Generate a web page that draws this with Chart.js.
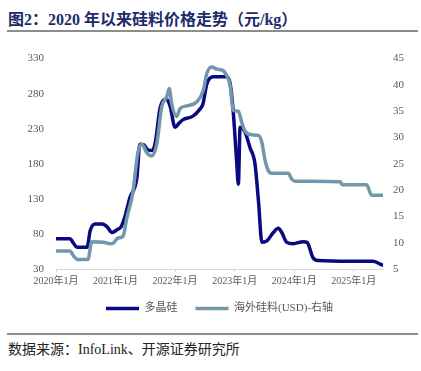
<!DOCTYPE html>
<html>
<head>
<meta charset="utf-8">
<script src="https://cdn.jsdelivr.net/npm/chart.js@4"></script>
<style>
  body { margin: 0; width: 421px; height: 371px; background: #fff; position: relative; overflow: hidden; }
  #title { position: absolute; left: 8px; top: 6px; font: bold 16px "Liberation Serif", "Noto Sans CJK SC", serif; color: #1c2a6b; white-space: nowrap; }
  .rule { position: absolute; left: 7px; width: 411px; height: 2px; background: #8c8c8c; }
  #src { position: absolute; left: 8px; top: 338px; font: 14px "Liberation Serif", "Noto Sans CJK SC", serif; color: #222; white-space: nowrap; }
  #box { position: absolute; left: 0; top: 40px; width: 421px; height: 284px; }
</style>
</head>
<body>
<div id="title">图2：2020 年以来硅料价格走势（元/kg）</div>
<div class="rule" style="top:30px"></div>
<div id="box"><canvas id="chart-area"></canvas></div>
<div class="rule" style="top:333px"></div>
<div id="src">数据来源：InfoLink、开源证券研究所</div>
<script>
// x = months since 2020-01
var polyMonths = [0, 2.8, 3.6, 4.2, 6.25, 6.9, 7.9, 9.3, 10.3, 11.3, 12.3, 13.1, 13.9, 14.9, 16.3, 16.9, 17.7, 18.5, 19.4, 20.0,
                  21.0, 22.3, 23.0, 24.0, 24.8, 25.6, 27.6, 29.0, 29.6, 30.4, 31.7, 34.4, 35.1, 35.7, 36.4, 36.75, 37.1, 38.1,
                  39.1, 40.1, 40.8, 41.5, 42.5, 43.8, 44.8, 45.5, 46.5, 47.8, 49.8, 50.6, 51.8, 52.8, 59.3, 63.9, 65.3, 65.9];
var polyPrice = [73, 73, 66, 61, 61, 85, 94, 94, 90, 82, 86, 90, 105, 132, 160, 208, 207, 200, 199, 210,
                 260, 272, 262, 232, 238, 243, 248, 258, 265, 294, 304, 304, 294, 256, 184, 151, 232, 225,
                 203, 180, 127, 68, 70, 82, 88, 82, 68, 66, 69, 68, 46, 42, 41, 41.2, 37, 35.5];

var usdMonths = [0, 2.8, 3.6, 4.4, 6.45, 7.2, 9.5, 10.9, 11.5, 12.5, 13.5, 14.25, 15.5, 16.5, 17.3, 18.3, 19.3, 20.3,
                 21.3, 22.3, 22.85, 23.3, 24.3, 25.0, 26.35, 28.4, 29.7, 30.4, 31.4, 32.4, 33.7, 34.4, 35.1, 35.7,
                 36.75, 37.4, 38.1, 39.5, 40.8, 41.5, 42.1, 42.8, 43.5, 46.8, 47.5, 48.2, 57.3, 57.7, 62.6, 63.6, 65.9];
var usdPrice = [8.4, 8.4, 7.4, 6.8, 6.8, 10.2, 10.1, 9.8, 9.9, 10.9, 11.2, 14.6, 19.6, 27.1, 28.7, 27.1, 26.5, 28.7,
                35.8, 37.7, 39.3, 36.5, 34, 35.5, 36, 36.8, 39, 42.2, 43.4, 43, 42.7, 41.8, 39.9, 35.2,
                35, 33, 31.2, 30.5, 30.4, 29, 25.8, 23.7, 23.2, 23.2, 22.1, 21.7, 21.6, 21.0, 21.0, 19.0, 19.0];

var yearLabels = ['2020年1月', '2021年1月', '2022年1月', '2023年1月', '2024年1月', '2025年1月'];

function pts(xs, ys) {
    var out = [];
    for (var i = 0; i < xs.length; i++) out.push({x: xs[i], y: ys[i]});
    return out;
}

var tickFont = {family: '"Liberation Serif", "Noto Sans CJK SC", serif', size: 11};

var ctx = document.getElementById("chart-area").getContext("2d");
var myChart = new Chart(ctx, {
    type: 'line',
    data: {
        datasets: [
            {
                label: '多晶硅',
                data: pts(polyMonths, polyPrice),
                borderColor: '#0a0a80',
                backgroundColor: '#0a0a80',
                borderWidth: 3.5,
                borderCapStyle: 'round',
                pointRadius: 0,
                cubicInterpolationMode: 'monotone',
                yAxisID: 'y',
                order: 2
            },
            {
                label: '海外硅料(USD)-右轴',
                data: pts(usdMonths, usdPrice),
                borderColor: '#7397aa',
                backgroundColor: '#7397aa',
                borderWidth: 3.5,
                borderCapStyle: 'round',
                pointRadius: 0,
                cubicInterpolationMode: 'monotone',
                yAxisID: 'y1',
                order: 1
            }
        ]
    },
    options: {
        responsive: true,
        maintainAspectRatio: false,
        animation: false,
        layout: {padding: {top: 15, left: 0, right: 0, bottom: 0}},
        plugins: {
            tooltip: {enabled: false},
            legend: {
                position: 'bottom',
                fullSize: false,
                labels: {
                    usePointStyle: true,
                    pointStyle: 'line',
                    pointStyleWidth: 33,
                    padding: 18,
                    color: '#595959',
                    font: {family: '"Liberation Serif", "Noto Sans CJK SC", serif', size: 11},
                    sort: function(a, b) { return a.datasetIndex - b.datasetIndex; }
                }
            }
        },
        scales: {
            x: {
                type: 'linear',
                min: 0,
                max: 65.9,
                afterFit: function(s) { s.height = 16; },
                border: {display: true, color: '#d9d9d9', width: 1},
                grid: {display: true, drawOnChartArea: false, drawTicks: true, tickLength: 3, color: '#d9d9d9'},
                ticks: {
                    stepSize: 12,
                    includeBounds: false,
                    autoSkip: false,
                    maxRotation: 0,
                    padding: 3,
                    color: '#595959',
                    font: {family: tickFont.family, size: 10},
                    callback: function(v) { return yearLabels[Math.round(v / 12)]; }
                }
            },
            y: {
                position: 'left',
                min: 30,
                max: 330,
                afterFit: function(s) { s.width = 56; },
                border: {display: false},
                grid: {display: false, drawTicks: false},
                ticks: {stepSize: 50, padding: 12, color: '#595959', font: tickFont}
            },
            y1: {
                position: 'right',
                min: 5,
                max: 45,
                afterFit: function(s) { s.width = 38; },
                border: {display: false},
                grid: {display: false, drawTicks: false},
                ticks: {stepSize: 5, padding: 10, color: '#595959', font: tickFont}
            }
        }
    }
});
</script>
</body>
</html>
